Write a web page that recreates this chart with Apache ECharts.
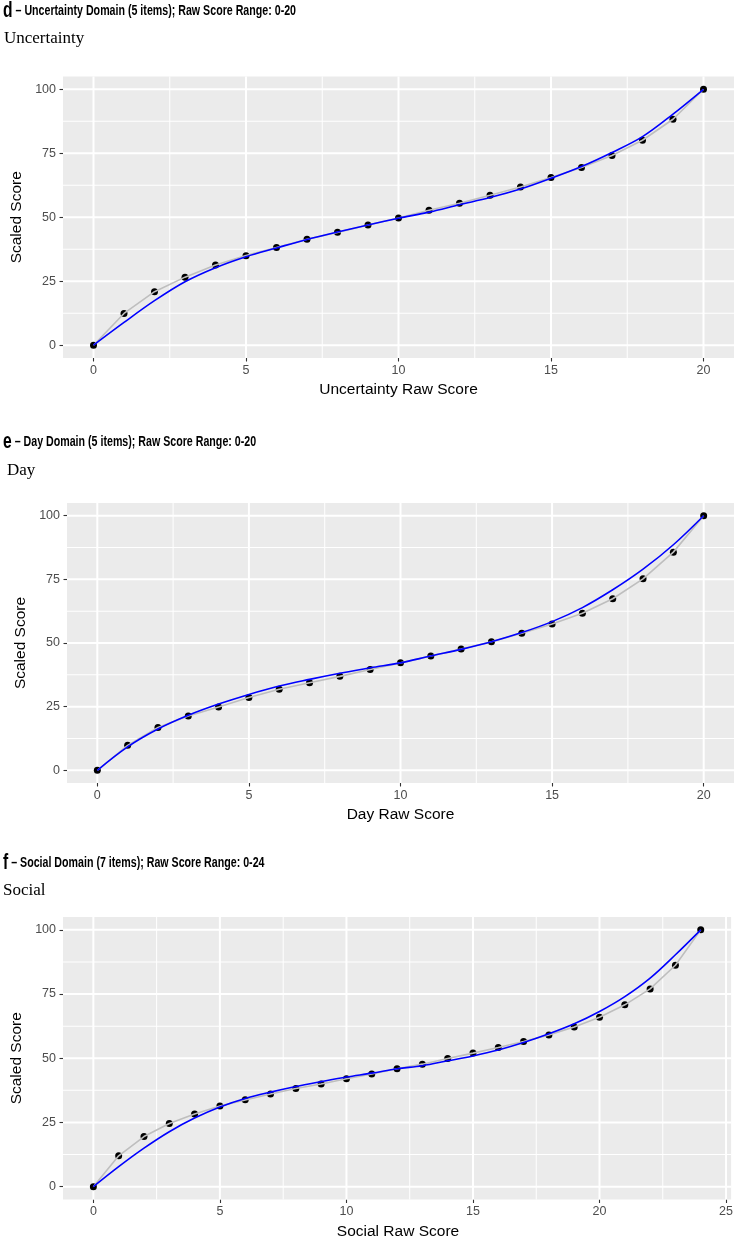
<!DOCTYPE html>
<html>
<head>
<meta charset="utf-8">
<script src="https://cdn.jsdelivr.net/npm/echarts@6/dist/echarts.min.js"></script>
<style>
  html, body { margin: 0; padding: 0; background: #fff; }
  #chart { width: 736px; height: 1238px; }
</style>
</head>
<body>
<div id="chart"></div>
<script>
// ---------- data ----------
const rawUnc = [0,1,2,3,4,5,6,7,8,9,10,11,12,13,14,15,16,17,18,19,20];
const uncObserved = [0,12.4,20.9,26.6,31.3,35.0,38.2,41.4,44.1,47.0,49.7,52.7,55.5,58.6,61.8,65.5,69.4,74.1,80.1,88.3,100];
const uncFitted   = [0,8.9,17.4,24.8,30.3,34.6,38.0,41.3,44.2,47.0,49.6,52.0,54.9,57.7,61.0,65.2,69.8,75.3,81.5,90.3,100];

const rawDay = [0,1,2,3,4,5,6,7,8,9,10,11,12,13,14,15,16,17,18,19,20];
const dayObserved = [0,9.8,16.8,21.3,24.9,28.6,31.8,34.4,36.9,39.6,42.2,44.9,47.6,50.5,53.8,57.5,61.7,67.4,75.2,85.7,100];
const dayFitted   = [0,9.2,16.2,21.6,26.0,29.8,33.1,35.7,38.1,40.3,42.2,44.9,47.5,50.5,54.1,58.4,63.9,70.9,79.0,88.6,100];

const rawSoc = [0,1,2,3,4,5,6,7,8,9,10,11,12,13,14,15,16,17,18,19,20,21,22,23,24];
const socObserved = [0,12.0,19.5,24.6,28.3,31.4,33.8,36.1,38.2,40.0,42.0,43.9,45.9,47.7,49.9,52.0,54.2,56.5,59.1,62.2,66.0,70.8,77.0,86.2,100];
const socFitted   = [0,7.8,15.0,21.4,26.7,31.0,34.3,36.8,39.0,40.9,42.7,44.2,45.9,47.1,49.0,50.9,53.2,56.1,59.5,63.4,68.2,74.0,81.2,90.3,100];

const xTicks20 = [0,5,10,15,20];
const xMinor20 = [2.5,7.5,12.5,17.5];
const xTicks24 = [0,5,10,15,20,25];
const xMinor24 = [2.5,7.5,12.5,17.5,22.5];
const yTicks = [0,25,50,75,100];
const yMinor = [12.5,37.5,62.5,87.5];

const headers = [
  { letter: 'd', text: ' – Uncertainty Domain (5 items); Raw Score Range: 0-20' },
  { letter: 'e', text: ' – Day Domain (5 items); Raw Score Range: 0-20' },
  { letter: 'f', text: ' – Social Domain (7 items); Raw Score Range: 0-24' }
];
const subTitles = ['Uncertainty', 'Day', 'Social'];
const xTitles = ['Uncertainty Raw Score', 'Day Raw Score', 'Social Raw Score'];
const yTitle = 'Scaled Score';

// ---------- layout ----------
const grids = [
  { left: 63, top: 76.5, width: 671, height: 281.5 },
  { left: 67, top: 503, width: 667, height: 280 },
  { left: 63, top: 917, width: 670, height: 282.5 }
];
const headerY = [11, 442, 863];
const subY = [39, 471, 891];
const subX = [4, 7, 3];

const panels = [
  { raw: rawUnc, obs: uncObserved, fit: uncFitted, xt: xTicks20, xm: xMinor20, xmin: -1, xmax: 21 },
  { raw: rawDay, obs: dayObserved, fit: dayFitted, xt: xTicks20, xm: xMinor20, xmin: -1, xmax: 21 },
  { raw: rawSoc, obs: socObserved, fit: socFitted, xt: xTicks24, xm: xMinor24, xmin: -1.2, xmax: 25.2 }
];

const chart = echarts.init(document.getElementById('chart'), null, { renderer: 'canvas' });

const option = {
  animation: false,
  backgroundColor: '#ffffff',
  grid: [], xAxis: [], yAxis: [], series: [], graphic: []
};

const labelFont = 'Liberation Sans, Arial, sans-serif';
const headFont = 'Liberation Sans, Arial, sans-serif';

panels.forEach((p, i) => {
  const g = grids[i];
  option.grid.push({
    left: g.left, top: g.top, width: g.width, height: g.height,
    show: true, backgroundColor: '#EBEBEB', borderWidth: 0
  });
  option.xAxis.push({
    type: 'value', gridIndex: i, min: p.xmin, max: p.xmax, position: 'bottom',
    axisLine: { show: false, onZero: false },
    axisTick: { show: true, length: 3.5, customValues: p.xt, lineStyle: { color: '#333333', width: 1.1 } },
    axisLabel: { customValues: p.xt, color: '#4D4D4D', fontSize: 12.5, fontFamily: labelFont, margin: 6 },
    splitLine: { show: false }
  });
  option.yAxis.push({
    type: 'value', gridIndex: i, min: -5, max: 105, position: 'left',
    axisLine: { show: false, onZero: false },
    axisTick: { show: true, length: 3.5, customValues: yTicks, lineStyle: { color: '#333333', width: 1.1 } },
    axisLabel: { customValues: yTicks, color: '#4D4D4D', fontSize: 12.5, fontFamily: labelFont, margin: 7 },
    splitLine: { show: false }
  });

  const gridLines = [];
  p.xm.forEach(v => gridLines.push([v, 0, 'v', 1.0]));
  yMinor.forEach(v => gridLines.push([0, v, 'h', 1.0]));
  p.xt.forEach(v => gridLines.push([v, 0, 'v', 2.0]));
  yTicks.forEach(v => gridLines.push([0, v, 'h', 2.0]));

  option.series.push({
    type: 'custom', xAxisIndex: i, yAxisIndex: i, z: 1, silent: true,
    data: gridLines.map(d => [d[0], d[1]]),
    renderItem: (params, api) => {
      const d = gridLines[params.dataIndex];
      const w = d[3];
      if (d[2] === 'v') {
        const a = api.coord([d[0], 105]); const b = api.coord([d[0], -5]);
        return { type: 'rect', silent: true,
                 shape: { x: a[0] - w / 2, y: a[1], width: w, height: b[1] - a[1] },
                 style: { fill: '#FFFFFF' } };
      } else {
        const a = api.coord([p.xmin, d[1]]); const b = api.coord([p.xmax, d[1]]);
        return { type: 'rect', silent: true,
                 shape: { x: a[0], y: a[1] - w / 2, width: b[0] - a[0], height: w },
                 style: { fill: '#FFFFFF' } };
      }
    }
  });
  option.series.push({
    type: 'scatter', xAxisIndex: i, yAxisIndex: i, z: 2,
    data: p.raw.map((x, k) => [x, p.obs[k]]),
    symbol: 'circle', symbolSize: 7,
    itemStyle: { color: '#000000', opacity: 1 }
  });
  option.series.push({
    type: 'line', xAxisIndex: i, yAxisIndex: i, z: 3,
    data: p.raw.map((x, k) => [x, p.obs[k]]),
    showSymbol: false, lineStyle: { color: '#BEBEBE', width: 1.6 }
  });
  option.series.push({
    type: 'line', xAxisIndex: i, yAxisIndex: i, z: 4,
    data: p.raw.map((x, k) => [x, p.fit[k]]),
    showSymbol: false, smooth: 0.35, lineStyle: { color: '#0000FF', width: 1.6 }
  });

  // header (condensed look)
  option.graphic.push({
    type: 'text', x: 3, y: headerY[i], scaleX: 0.71,
    style: {
      text: '{a|' + headers[i].letter + '}{b|' + headers[i].text + '}',
      verticalAlign: 'middle',
      rich: {
        a: { fontSize: 22, fontWeight: 'bold', fontFamily: headFont, fill: '#000' },
        b: { fontSize: 15, fontWeight: 'bold', fontFamily: headFont, fill: '#000' }
      }
    }
  });
  // sub title
  option.graphic.push({
    type: 'text', x: subX[i], y: subY[i],
    style: { text: subTitles[i], fontSize: 17, fontFamily: 'Liberation Serif, DejaVu Serif, serif', fill: '#000',
             verticalAlign: 'middle', align: 'left' }
  });
  // x title
  option.graphic.push({
    type: 'text', x: g.left + g.width / 2, y: g.top + g.height + 32,
    style: { text: xTitles[i], fontSize: 15.5, fontFamily: labelFont, fill: '#000',
             align: 'center', verticalAlign: 'middle' }
  });
  // y title
  option.graphic.push({
    type: 'text', x: g.left - 46, y: g.top + g.height / 2, rotation: Math.PI / 2,
    style: { text: yTitle, fontSize: 15.5, fontFamily: labelFont, fill: '#000',
             align: 'center', verticalAlign: 'middle' }
  });
});

chart.setOption(option);
</script>
</body>
</html>
